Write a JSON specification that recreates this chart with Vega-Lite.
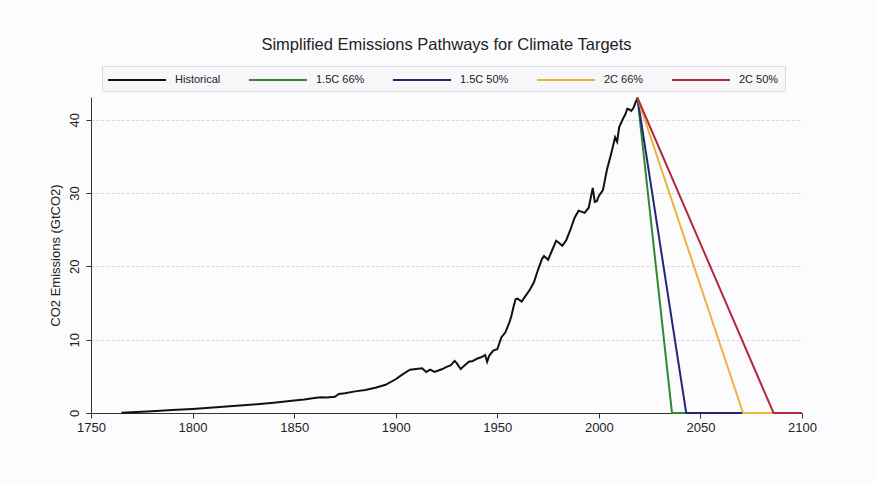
{
  "$schema": "https://vega.github.io/schema/vega-lite/v6.json",
  "width": 711,
  "height": 316,
  "autosize": "none",
  "padding": {"left": 91, "top": 97, "right": 73, "bottom": 72},
  "background": "#fcfcfe",
  "title": {
    "text": "Simplified Emissions Pathways for Climate Targets",
    "font": "Liberation Sans",
    "fontSize": 16.5,
    "fontWeight": "normal",
    "color": "#222222",
    "anchor": "middle",
    "offset": 12
  },
  "config": {
    "view": {"stroke": null},
    "axis": {"labelFont": "Liberation Sans", "titleFont": "Liberation Sans", "labelColor": "#222", "titleColor": "#222", "domainColor": "#333", "tickColor": "#333"}
  },
  "data": {
    "values": [
      {"series": "Historical", "year": 1765, "value": 0.05},
      {"series": "Historical", "year": 1770, "value": 0.1},
      {"series": "Historical", "year": 1780, "value": 0.25},
      {"series": "Historical", "year": 1790, "value": 0.4},
      {"series": "Historical", "year": 1800, "value": 0.55},
      {"series": "Historical", "year": 1810, "value": 0.75},
      {"series": "Historical", "year": 1820, "value": 0.95},
      {"series": "Historical", "year": 1830, "value": 1.15},
      {"series": "Historical", "year": 1840, "value": 1.4},
      {"series": "Historical", "year": 1850, "value": 1.7},
      {"series": "Historical", "year": 1855, "value": 1.85},
      {"series": "Historical", "year": 1860, "value": 2.05},
      {"series": "Historical", "year": 1863, "value": 2.15},
      {"series": "Historical", "year": 1866, "value": 2.1},
      {"series": "Historical", "year": 1870, "value": 2.2},
      {"series": "Historical", "year": 1872, "value": 2.6},
      {"series": "Historical", "year": 1875, "value": 2.7},
      {"series": "Historical", "year": 1880, "value": 2.95},
      {"series": "Historical", "year": 1885, "value": 3.15},
      {"series": "Historical", "year": 1890, "value": 3.45},
      {"series": "Historical", "year": 1895, "value": 3.85},
      {"series": "Historical", "year": 1900, "value": 4.6},
      {"series": "Historical", "year": 1903, "value": 5.2},
      {"series": "Historical", "year": 1907, "value": 5.9},
      {"series": "Historical", "year": 1910, "value": 6.0},
      {"series": "Historical", "year": 1913, "value": 6.1},
      {"series": "Historical", "year": 1915, "value": 5.6},
      {"series": "Historical", "year": 1917, "value": 5.9},
      {"series": "Historical", "year": 1919, "value": 5.6},
      {"series": "Historical", "year": 1921, "value": 5.8},
      {"series": "Historical", "year": 1923, "value": 6.0},
      {"series": "Historical", "year": 1925, "value": 6.3},
      {"series": "Historical", "year": 1927, "value": 6.5},
      {"series": "Historical", "year": 1929, "value": 7.1},
      {"series": "Historical", "year": 1930, "value": 6.8},
      {"series": "Historical", "year": 1932, "value": 6.0},
      {"series": "Historical", "year": 1934, "value": 6.5},
      {"series": "Historical", "year": 1936, "value": 7.0},
      {"series": "Historical", "year": 1938, "value": 7.1},
      {"series": "Historical", "year": 1940, "value": 7.4},
      {"series": "Historical", "year": 1942, "value": 7.6},
      {"series": "Historical", "year": 1944, "value": 7.9},
      {"series": "Historical", "year": 1945, "value": 7.0},
      {"series": "Historical", "year": 1946, "value": 7.8},
      {"series": "Historical", "year": 1948, "value": 8.5},
      {"series": "Historical", "year": 1950, "value": 8.7},
      {"series": "Historical", "year": 1952, "value": 10.3},
      {"series": "Historical", "year": 1954, "value": 11.0},
      {"series": "Historical", "year": 1956, "value": 12.4},
      {"series": "Historical", "year": 1957, "value": 13.3},
      {"series": "Historical", "year": 1958, "value": 14.5},
      {"series": "Historical", "year": 1959, "value": 15.5},
      {"series": "Historical", "year": 1960, "value": 15.6},
      {"series": "Historical", "year": 1962, "value": 15.2},
      {"series": "Historical", "year": 1964, "value": 16.0},
      {"series": "Historical", "year": 1966, "value": 16.8},
      {"series": "Historical", "year": 1968, "value": 17.8},
      {"series": "Historical", "year": 1970, "value": 19.5},
      {"series": "Historical", "year": 1972, "value": 21.0},
      {"series": "Historical", "year": 1973, "value": 21.4},
      {"series": "Historical", "year": 1975, "value": 20.9},
      {"series": "Historical", "year": 1977, "value": 22.2},
      {"series": "Historical", "year": 1979, "value": 23.5},
      {"series": "Historical", "year": 1980, "value": 23.3},
      {"series": "Historical", "year": 1982, "value": 22.8},
      {"series": "Historical", "year": 1984, "value": 23.6},
      {"series": "Historical", "year": 1986, "value": 25.0},
      {"series": "Historical", "year": 1988, "value": 26.6},
      {"series": "Historical", "year": 1990, "value": 27.6},
      {"series": "Historical", "year": 1992, "value": 27.4},
      {"series": "Historical", "year": 1993, "value": 27.3},
      {"series": "Historical", "year": 1995, "value": 28.0},
      {"series": "Historical", "year": 1997, "value": 30.7},
      {"series": "Historical", "year": 1998, "value": 28.8},
      {"series": "Historical", "year": 1999, "value": 28.9},
      {"series": "Historical", "year": 2000, "value": 29.6},
      {"series": "Historical", "year": 2002, "value": 30.4},
      {"series": "Historical", "year": 2004, "value": 33.2},
      {"series": "Historical", "year": 2006, "value": 35.3},
      {"series": "Historical", "year": 2008, "value": 37.6},
      {"series": "Historical", "year": 2009, "value": 37.0},
      {"series": "Historical", "year": 2010, "value": 39.0},
      {"series": "Historical", "year": 2012, "value": 40.2},
      {"series": "Historical", "year": 2013, "value": 40.7},
      {"series": "Historical", "year": 2014, "value": 41.5},
      {"series": "Historical", "year": 2015, "value": 41.4},
      {"series": "Historical", "year": 2016, "value": 41.2},
      {"series": "Historical", "year": 2017, "value": 41.6},
      {"series": "Historical", "year": 2018, "value": 42.3},
      {"series": "Historical", "year": 2019, "value": 43.0},
      {"series": "1.5C 66%", "year": 2019, "value": 43.0},
      {"series": "1.5C 66%", "year": 2036, "value": 0},
      {"series": "1.5C 66%", "year": 2100, "value": 0},
      {"series": "1.5C 50%", "year": 2019, "value": 43.0},
      {"series": "1.5C 50%", "year": 2043, "value": 0},
      {"series": "1.5C 50%", "year": 2100, "value": 0},
      {"series": "2C 66%", "year": 2019, "value": 43.0},
      {"series": "2C 66%", "year": 2071, "value": 0},
      {"series": "2C 66%", "year": 2100, "value": 0},
      {"series": "2C 50%", "year": 2019, "value": 43.0},
      {"series": "2C 50%", "year": 2086, "value": 0},
      {"series": "2C 50%", "year": 2100, "value": 0}
    ]
  },
  "mark": {"type": "line", "strokeWidth": 2, "clip": false},
  "encoding": {
    "x": {
      "field": "year",
      "type": "quantitative",
      "scale": {"domain": [1750, 2100], "nice": false, "zero": false},
      "axis": {
        "title": null,
        "values": [1750, 1800, 1850, 1900, 1950, 2000, 2050, 2100],
        "format": "d",
        "grid": false,
        "labelFontSize": 13,
        "tickSize": 5,
        "labelPadding": 3,
        "labelFlush": false
      }
    },
    "y": {
      "field": "value",
      "type": "quantitative",
      "scale": {"domain": [0, 43.1], "nice": false},
      "axis": {
        "title": "CO2 Emissions (GtCO2)",
        "titleFontSize": 13,
        "titleFontWeight": "normal",
        "titlePadding": 6,
        "values": [0, 10, 20, 30, 40],
        "labelFontSize": 13,
        "labelAngle": 270,
        "labelAlign": "center",
        "labelBaseline": "bottom",
        "labelPadding": 5,
        "tickSize": 5,
        "grid": true,
        "gridColor": "#d6d6de",
        "gridDash": [3, 2],
        "gridWidth": 1
      }
    },
    "color": {
      "field": "series",
      "type": "nominal",
      "sort": ["Historical", "1.5C 66%", "1.5C 50%", "2C 66%", "2C 50%"],
      "scale": {
        "domain": ["Historical", "1.5C 66%", "1.5C 50%", "2C 66%", "2C 50%"],
        "range": ["#111111", "#2f8a2f", "#25257e", "#e8b43a", "#b52a3a"]
      },
      "legend": {
        "title": null,
        "orient": "none",
        "legendX": 11,
        "legendY": -31,
        "direction": "horizontal",
        "symbolType": "M-4.15,0H4.15",
        "symbolSize": 196,
        "symbolOffset": 21,
        "symbolStrokeWidth": 2,
        "labelFont": "Liberation Sans",
        "labelFontSize": 11,
        "labelColor": "#222",
        "labelOffset": 30,
        "columnPadding": 23,
        "padding": 6,
        "strokeColor": "#dcdce4",
        "fillColor": "#f7f7fa"
      }
    },
    "order": {"field": "year", "type": "quantitative"}
  }
}
